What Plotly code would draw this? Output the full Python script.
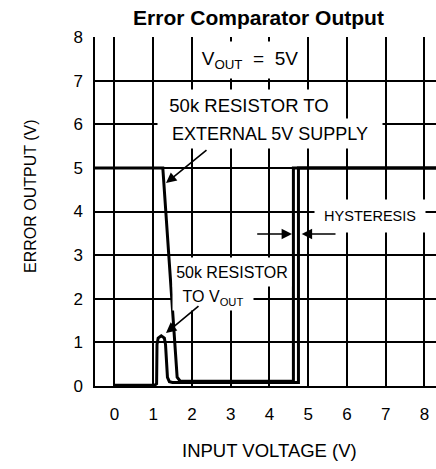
import plotly.graph_objects as go

# ---- data ----
x_ticks = [0, 1, 2, 3, 4, 5, 6, 7, 8]
y_ticks = [0, 1, 2, 3, 4, 5, 6, 7, 8]

ext_x = [-0.5, 1.25, 1.62, 1.70, 4.62, 4.62, 8.3]
ext_y = [5.0, 5.0, 0.20, 0.11, 0.11, 5.0, 5.0]

vout_x = [0.0, 1.04, 1.09, 1.10, 1.13, 1.21, 1.29, 1.32, 1.37, 1.42, 1.50, 4.75, 4.75, 8.3]
vout_y = [0.02, 0.02, 0.05, 0.95, 1.10, 1.15, 1.10, 0.95, 0.20, 0.10, 0.08, 0.08, 5.0, 5.0]

# ---- layout geometry (pixels) ----
W, H = 436, 469
L, R, T, B = 95, 0, 37, 83
X0, X1 = -0.5, 8.3
Y0, Y1 = 0, 8
PW, PH = W - L - R, H - T - B


def px2x(px):
    return X0 + (px - L) / PW * (X1 - X0)


def px2y(py):
    return Y0 + (H - B - py) / PH * (Y1 - Y0)


def paper_x(px):
    return (px - L) / PW


def paper_y(py):
    return (H - B - py) / PH


FONT = "Liberation Sans, Arial, sans-serif"

fig = go.Figure()
fig.add_trace(go.Scatter(x=ext_x, y=ext_y, mode="lines",
                         line=dict(color="black", width=3), hoverinfo="skip"))
fig.add_trace(go.Scatter(x=vout_x, y=vout_y, mode="lines",
                         line=dict(color="black", width=3), hoverinfo="skip"))

ann = []


def box(text, cx, cy, w, h, size):
    ann.append(dict(text=text, x=px2x(cx), y=px2y(cy), xref="x", yref="y",
                    showarrow=False, bgcolor="white", width=w, height=h,
                    xanchor="center", yanchor="middle", borderpad=0,
                    font=dict(family=FONT, size=size, color="black")))


box("V<sub>OUT</sub>  =  5V", 250, 59.5, 112, 36, 19)
box("50k RESISTOR TO", 249, 105, 184, 31, 18.5)
box("EXTERNAL 5V SUPPLY", 270, 133, 224, 29, 18)
box("50k RESISTOR", 232, 272, 118, 28, 16)
box("TO V<sub>OUT</sub>", 213, 298, 80, 24, 16)
box("HYSTERESIS", 370, 216, 110, 32, 14.5)


def arrow(hx, hy, tx, ty):
    ann.append(dict(text="", x=px2x(hx), y=px2y(hy), ax=px2x(tx), ay=px2y(ty),
                    xref="x", yref="y", axref="x", ayref="y", showarrow=True,
                    arrowhead=2, arrowsize=1.3, arrowwidth=1.6, arrowcolor="black"))


arrow(166, 183, 208, 149)
arrow(166, 333, 200, 305)
arrow(292, 234, 255.7, 234)
arrow(301.7, 234, 337, 234)

# axis titles
ann.append(dict(text="INPUT VOLTAGE (V)", x=paper_x(269), y=paper_y(450),
                xref="paper", yref="paper", showarrow=False,
                xanchor="center", yanchor="middle",
                font=dict(family=FONT, size=18.5, color="black")))
ann.append(dict(text="ERROR OUTPUT (V)", x=paper_x(30), y=paper_y(197),
                xref="paper", yref="paper", showarrow=False, textangle=-90,
                xanchor="center", yanchor="middle",
                font=dict(family=FONT, size=16, color="black")))

fig.update_layout(
    width=W, height=H,
    margin=dict(l=L, r=R, t=T, b=B, pad=0),
    plot_bgcolor="white", paper_bgcolor="white",
    showlegend=False,
    title=dict(text="<b>Error Comparator Output</b>", x=258.5 / W, xref="container",
               y=1 - 17.5 / H, yref="container", xanchor="center", yanchor="middle",
               font=dict(family=FONT, size=21, color="black")),
    annotations=ann,
    xaxis=dict(range=[X0, X1], tickvals=x_ticks, ticktext=[str(v) for v in x_ticks],
               showgrid=True, gridcolor="black", gridwidth=1.5, zeroline=False,
               showline=True, linecolor="black", linewidth=1.5,
               ticks="outside", ticklen=12, tickcolor="rgba(0,0,0,0)",
               tickfont=dict(family=FONT, size=17, color="black")),
    yaxis=dict(range=[Y0, Y1], tickvals=y_ticks, ticktext=[str(v) for v in y_ticks],
               showgrid=True, gridcolor="black", gridwidth=1.5, zeroline=False,
               showline=True, linecolor="black", linewidth=1.5,
               ticks="outside", ticklen=7, tickcolor="rgba(0,0,0,0)",
               tickfont=dict(family=FONT, size=17, color="black")),
)

fig.write_html("out.html", config={"displayModeBar": False},
               post_script="document.body.style.margin='0px';")
